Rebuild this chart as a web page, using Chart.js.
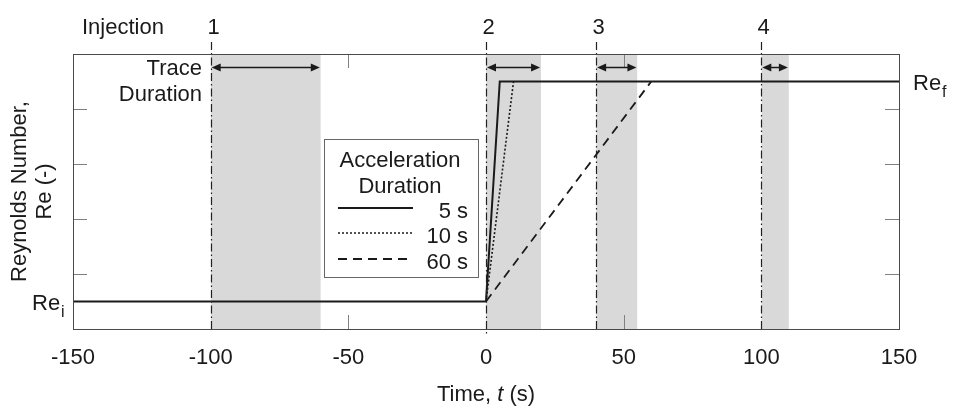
<!DOCTYPE html>
<html>
<head>
<meta charset="utf-8">
<title>Reynolds number vs time</title>
<script src="https://cdn.jsdelivr.net/npm/chart.js@4.4.1/dist/chart.umd.min.js"></script>
<style>
  html, body { margin: 0; padding: 0; background: #fff; }
  #wrap { width: 954px; height: 408px; }
</style>
</head>
<body>
<div id="wrap"><canvas id="chart" width="954" height="408"></canvas></div>
<script>
// values (y axis is unlabelled, 0..5)
var xTicks = [-150, -100, -50, 0, 50, 100, 150];
var yTickValues = [1, 2, 3, 4];
var yMin = 0, yMax = 5;
var reInitial = 0.5;
var reFinal = 4.5;

// acceleration profiles
var time5s = [-150, 0, 5, 150];
var re5s = [reInitial, reInitial, reFinal, reFinal];
var time10s = [0, 10];
var re10s = [reInitial, reFinal];
var time60s = [0, 60];
var re60s = [reInitial, reFinal];
var accelLabels = ['5 s', '10 s', '60 s'];

// tracer injections
var injectionTimes = [-100, 0, 40, 100];
var injectionLabels = ['1', '2', '3', '4'];
var traceDurations = [40, 20, 15, 10];

var FONT = "'Liberation Sans', Arial, sans-serif";
var INK = '#1a1a1a';

function toPoints(xs, ys) {
    return xs.map(function(x, i) { return { x: x, y: ys[i] }; });
}

var lineStyles = [
    { dash: [], width: 2 },
    { dash: [2, 2], width: 1.6 },
    { dash: [9, 6], width: 1.8 }
];

var datasets = [
    { label: accelLabels[0], data: toPoints(time5s, re5s) },
    { label: accelLabels[1], data: toPoints(time10s, re10s) },
    { label: accelLabels[2], data: toPoints(time60s, re60s) }
].map(function(ds, i) {
    ds.borderColor = INK;
    ds.borderWidth = lineStyles[i].width;
    ds.borderDash = lineStyles[i].dash;
    ds.pointRadius = 0;
    ds.fill = false;
    ds.tension = 0;
    return ds;
});

// shaded trace windows, filled down to the bottom of the axis
injectionTimes.forEach(function(t, i) {
    datasets.push({
        label: 'trace ' + injectionLabels[i],
        data: [{ x: t, y: yMax }, { x: t + traceDurations[i], y: yMax }],
        fill: 'start',
        backgroundColor: '#d9d9d9',
        borderWidth: 0,
        pointRadius: 0
    });
});

function text(ctx, str, x, y, align, size, italic) {
    ctx.font = (italic ? 'italic ' : '') + size + 'px ' + FONT;
    ctx.textAlign = align;
    ctx.fillText(str, x, y);
}

// "Re" with a subscript
function reLabel(ctx, sub, x, y) {
    ctx.font = '22px ' + FONT;
    var w = ctx.measureText('Re').width;
    text(ctx, 'Re', x, y, 'left', 22);
    text(ctx, sub, x + w + 1, y + 7, 'left', 16);
}

function arrowHead(ctx, x, y, dir) {
    ctx.beginPath();
    ctx.moveTo(x, y);
    ctx.lineTo(x - dir * 9, y - 4);
    ctx.lineTo(x - dir * 9, y + 4);
    ctx.closePath();
    ctx.fill();
}

var decorations = {
    id: 'decorations',
    afterDatasetsDraw: function(chart) {
        var ctx = chart.ctx;
        var xs = chart.scales.x, ys = chart.scales.y;
        var a = chart.chartArea;
        ctx.save();
        ctx.fillStyle = INK;
        ctx.textBaseline = 'alphabetic';

        // injection markers (dash-dot)
        ctx.strokeStyle = '#222';
        ctx.lineWidth = 1.2;
        ctx.setLineDash([8, 3, 1.5, 3]);
        injectionTimes.forEach(function(t, i) {
            var px = Math.round(xs.getPixelForValue(t)) + 0.5;
            ctx.beginPath();
            ctx.moveTo(px, a.top - 12);
            ctx.lineTo(px, t === 0 ? a.bottom + 7 : a.bottom);
            ctx.stroke();
            text(ctx, injectionLabels[i], px + 2, 34, 'center', 22);
        });
        ctx.setLineDash([]);

        // inner tick marks
        ctx.strokeStyle = '#808080';
        ctx.lineWidth = 1;
        xTicks.forEach(function(v) {
            if (v === xs.min || v === xs.max || injectionTimes.indexOf(v) >= 0) return;
            var px = Math.round(xs.getPixelForValue(v)) + 0.5;
            ctx.beginPath();
            ctx.moveTo(px, a.bottom); ctx.lineTo(px, a.bottom - 14);
            ctx.moveTo(px, a.top); ctx.lineTo(px, a.top + 14);
            ctx.stroke();
        });
        yTickValues.forEach(function(v) {
            var py = Math.round(ys.getPixelForValue(v)) + 0.5;
            ctx.beginPath();
            ctx.moveTo(a.left, py); ctx.lineTo(a.left + 14, py);
            ctx.moveTo(a.right, py); ctx.lineTo(a.right - 14, py);
            ctx.stroke();
        });

        // frame
        ctx.strokeStyle = '#4a4a4a';
        ctx.strokeRect(a.left + 0.5, a.top + 0.5, a.right - a.left, a.bottom - a.top);

        // trace duration arrows
        ctx.strokeStyle = INK;
        ctx.lineWidth = 1.5;
        var ay = a.top + 13.5;
        injectionTimes.forEach(function(t, i) {
            var x0 = xs.getPixelForValue(t) + 1;
            var x1 = xs.getPixelForValue(t + traceDurations[i]) - 1;
            ctx.beginPath();
            ctx.moveTo(x0 + 4, ay); ctx.lineTo(x1 - 4, ay);
            ctx.stroke();
            arrowHead(ctx, x0, ay, -1);
            arrowHead(ctx, x1, ay, 1);
        });

        // annotations
        text(ctx, 'Injection', 82, 34, 'left', 22);
        text(ctx, 'Trace', 202, 75, 'right', 22);
        text(ctx, 'Duration', 202, 101, 'right', 22);

        reLabel(ctx, 'i', 32, ys.getPixelForValue(reInitial) + 8);
        reLabel(ctx, 'f', 913, ys.getPixelForValue(reFinal) + 8);

        // x axis title with italic t
        ctx.font = '22px ' + FONT;
        var p1 = 'Time, ', p3 = ' (s)';
        var w1 = ctx.measureText(p1).width, w3 = ctx.measureText(p3).width;
        ctx.font = 'italic 22px ' + FONT;
        var w2 = ctx.measureText('t').width;
        var tx = (a.left + a.right) / 2 - (w1 + w2 + w3) / 2;
        text(ctx, p1, tx, 401, 'left', 22);
        text(ctx, 't', tx + w1, 401, 'left', 22, true);
        text(ctx, p3, tx + w1 + w2, 401, 'left', 22);

        // y axis title, rotated
        var cy = (a.top + a.bottom) / 2;
        ctx.save();
        ctx.translate(26, cy);
        ctx.rotate(-Math.PI / 2);
        text(ctx, 'Reynolds Number,', 0, 0, 'center', 22);
        ctx.restore();
        ctx.save();
        ctx.translate(51, cy);
        ctx.rotate(-Math.PI / 2);
        text(ctx, 'Re (-)', 0, 0, 'center', 22);
        ctx.restore();

        // legend box
        var lx = 324, ly = 139, lw = 154, lh = 138;
        ctx.fillStyle = '#fff';
        ctx.fillRect(lx, ly, lw, lh);
        ctx.strokeStyle = '#666';
        ctx.lineWidth = 1;
        ctx.strokeRect(lx + 0.5, ly + 0.5, lw, lh);
        ctx.fillStyle = INK;
        text(ctx, 'Acceleration', lx + lw / 2 - 1, ly + 28, 'center', 22);
        text(ctx, 'Duration', lx + lw / 2 - 1, ly + 54, 'center', 22);
        var rows = [ly + 79, ly + 104, ly + 130];
        datasets.slice(0, 3).forEach(function(ds, i) {
            var ry = rows[i];
            ctx.strokeStyle = INK;
            ctx.lineWidth = ds.borderWidth;
            ctx.setLineDash(ds.borderDash);
            ctx.beginPath();
            ctx.moveTo(lx + 14, ry - 10);
            ctx.lineTo(lx + 89, ry - 10);
            ctx.stroke();
            ctx.setLineDash([]);
            text(ctx, ds.label, lx + 144, ry, 'right', 22);
        });

        ctx.restore();
    }
};

new Chart(document.getElementById('chart'), {
    type: 'line',
    data: { datasets: datasets },
    options: {
        responsive: false,
        animation: false,
        devicePixelRatio: 1,
        layout: { padding: { top: 54, right: 55, left: 0, bottom: 0 } },
        plugins: {
            legend: { display: false },
            tooltip: { enabled: false }
        },
        scales: {
            x: {
                type: 'linear',
                min: -150,
                max: 150,
                afterBuildTicks: function(scale) {
                    scale.ticks = xTicks.map(function(v) { return { value: v }; });
                },
                afterFit: function(scale) { scale.height = 79; },
                grid: { display: false, drawTicks: false },
                border: { display: false },
                ticks: {
                    color: INK,
                    padding: 16,
                    maxRotation: 0,
                    font: { size: 22, family: FONT }
                }
            },
            y: {
                type: 'linear',
                min: yMin,
                max: yMax,
                afterFit: function(scale) { scale.width = 73; },
                grid: { display: false },
                border: { display: false },
                ticks: { display: false }
            }
        }
    },
    plugins: [decorations]
});
</script>
</body>
</html>
